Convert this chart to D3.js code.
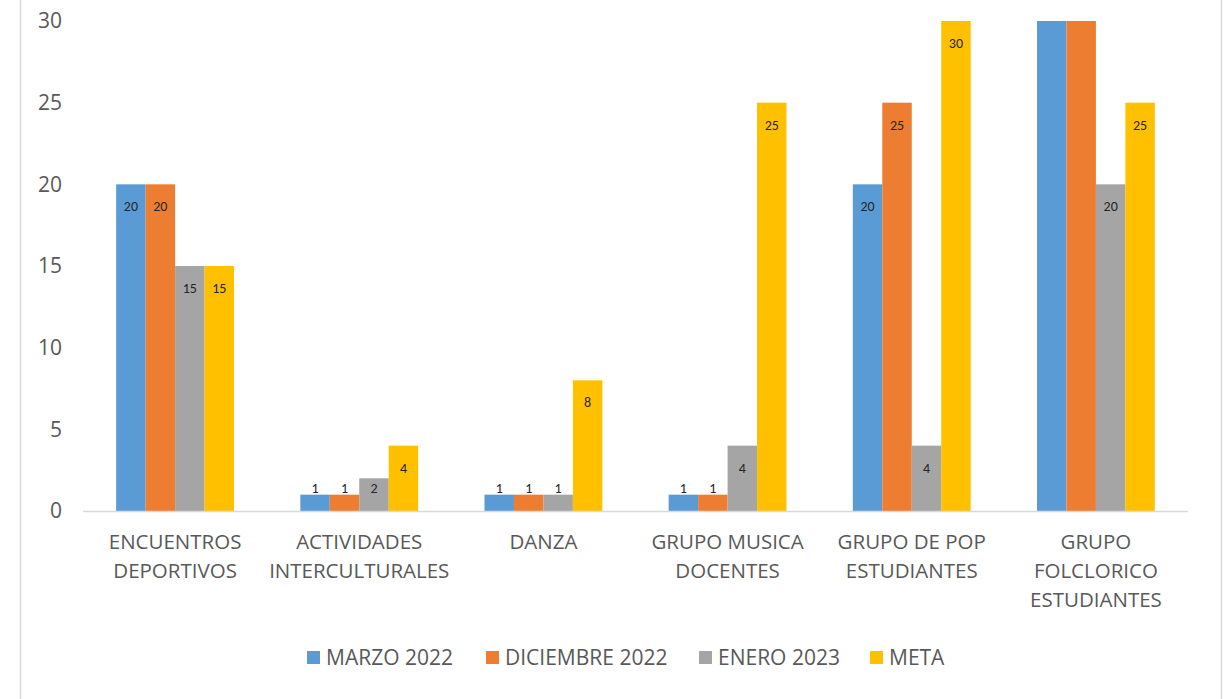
<!DOCTYPE html>
<html>
<head>
<meta charset="utf-8">
<script src="https://cdn.jsdelivr.net/npm/d3@7"></script>
<style>
  body { margin: 0; background: #fff; }
  svg { display: block; font-family: "Open Sans", sans-serif; }
</style>
</head>
<body>
<svg id="chart" width="1223" height="699"></svg>
<script>
// categories (multi-line labels)
const categories = [
    ["ENCUENTROS", "DEPORTIVOS"],
    ["ACTIVIDADES", "INTERCULTURALES"],
    ["DANZA"],
    ["GRUPO MUSICA", "DOCENTES"],
    ["GRUPO DE POP", "ESTUDIANTES"],
    ["GRUPO", "FOLCLORICO", "ESTUDIANTES"]
];
const seriesNames = ["MARZO 2022", "DICIEMBRE 2022", "ENERO 2023", "META"];
const seriesColors = ["#5B9BD5", "#ED7D31", "#A5A5A5", "#FFC000"];

// values per series; the folclorico blue/orange bars run past the top of the axis
const marzo2022 = [20, 1, 1, 1, 20, 35];
const diciembre2022 = [20, 1, 1, 1, 25, 35];
const enero2023 = [15, 2, 1, 4, 4, 20];
const meta = [15, 4, 8, 25, 30, 25];
const seriesValues = [marzo2022, diciembre2022, enero2023, meta];

const yTicks = [0, 5, 10, 15, 20, 25, 30];
const yMax = 30;

const svg = d3.select("#chart");
const margin = { left: 83, right: 35, top: 21, bottom: 188 };
const width = 1223, height = 699;
const plotW = width - margin.left - margin.right;
const plotH = height - margin.top - margin.bottom;

// frame lines at left / right edge
svg.append("line").attr("x1", 20.5).attr("x2", 20.5).attr("y1", 0).attr("y2", height)
    .attr("stroke", "#d9d9d9").attr("stroke-width", 1.5);
svg.append("line").attr("x1", 1221.5).attr("x2", 1221.5).attr("y1", 0).attr("y2", height)
    .attr("stroke", "#d9d9d9").attr("stroke-width", 1.5);

const g = svg.append("g").attr("transform", `translate(${margin.left},${margin.top})`);

const x0 = d3.scaleBand().domain(d3.range(categories.length)).range([0, plotW]).paddingInner(0.36).paddingOuter(0.18);
const x1 = d3.scaleBand().domain(d3.range(seriesNames.length)).range([0, x0.bandwidth()]);
const y = d3.scaleLinear().domain([0, yMax]).range([plotH, 0]);

svg.append("defs").append("clipPath").attr("id", "plotClip")
    .append("rect").attr("x", -10).attr("y", 0).attr("width", plotW + 20).attr("height", plotH);

// y axis labels
const yAxis = g.append("g")
    .call(d3.axisLeft(y).tickValues(yTicks).tickSize(0).tickPadding(21));
yAxis.select(".domain").remove();
yAxis.selectAll("text").attr("fill", "#595959").style("font-size", "21px")
    .style("font-family", "'Open Sans', sans-serif");

// bars
const barsG = g.append("g").attr("clip-path", "url(#plotClip)");
const rows = [];
categories.forEach((c, ci) => {
    seriesValues.forEach((vals, si) => rows.push({ ci, si, v: vals[ci] }));
});

barsG.selectAll("rect")
    .data(rows)
    .join("rect")
    .attr("x", d => x0(d.ci) + x1(d.si))
    .attr("y", d => y(d.v))
    .attr("width", x1.bandwidth())
    .attr("height", d => y(0) - y(d.v))
    .attr("fill", d => seriesColors[d.si]);

// data labels: inside end, above the bar when the bar is too short;
// bars past the axis top have their label off the chart, so skip them
const labelY = d => {
    const top = y(d.v), h = y(0) - top;
    if (h < 25) return top - 2;
    return Math.min(top + 27, y(0) - 18);
};
g.append("g").selectAll("text")
    .data(rows.filter(d => d.v <= yMax))
    .join("text")
    .attr("x", d => x0(d.ci) + x1(d.si) + x1.bandwidth() / 2)
    .attr("y", labelY)
    .attr("text-anchor", "middle")
    .attr("fill", "#262626")
    .style("font-family", "Carlito, Calibri, sans-serif")
    .style("font-size", "14px")
    .text(d => d.v);

// x axis line
g.append("line").attr("x1", 0).attr("x2", plotW).attr("y1", plotH + 0.5).attr("y2", plotH + 0.5)
    .attr("stroke", "#d9d9d9").attr("stroke-width", 1.5);

// category labels
const catG = g.append("g");
categories.forEach((lines, ci) => {
    const cx = x0(ci) + x0.bandwidth() / 2;
    const t = catG.append("text")
        .attr("x", cx)
        .attr("y", plotH + 38)
        .attr("text-anchor", "middle")
        .attr("fill", "#595959")
        .style("font-size", "20.5px");
    lines.forEach((l, i) => {
        t.append("tspan").attr("x", cx).attr("dy", i === 0 ? 0 : 29).text(l);
    });
});

// legend
const legendX = [307, 486, 699, 870];
const legend = svg.append("g").attr("transform", "translate(0,658)");
seriesNames.forEach((name, i) => {
    const item = legend.append("g").attr("transform", `translate(${legendX[i]},0)`);
    item.append("rect").attr("x", 0).attr("y", -7).attr("width", 13).attr("height", 13).attr("fill", seriesColors[i]);
    item.append("text").attr("x", 19).attr("y", 0).attr("dy", "0.35em")
        .attr("fill", "#595959").style("font-size", "21px").text(name);
});
</script>
</body>
</html>
